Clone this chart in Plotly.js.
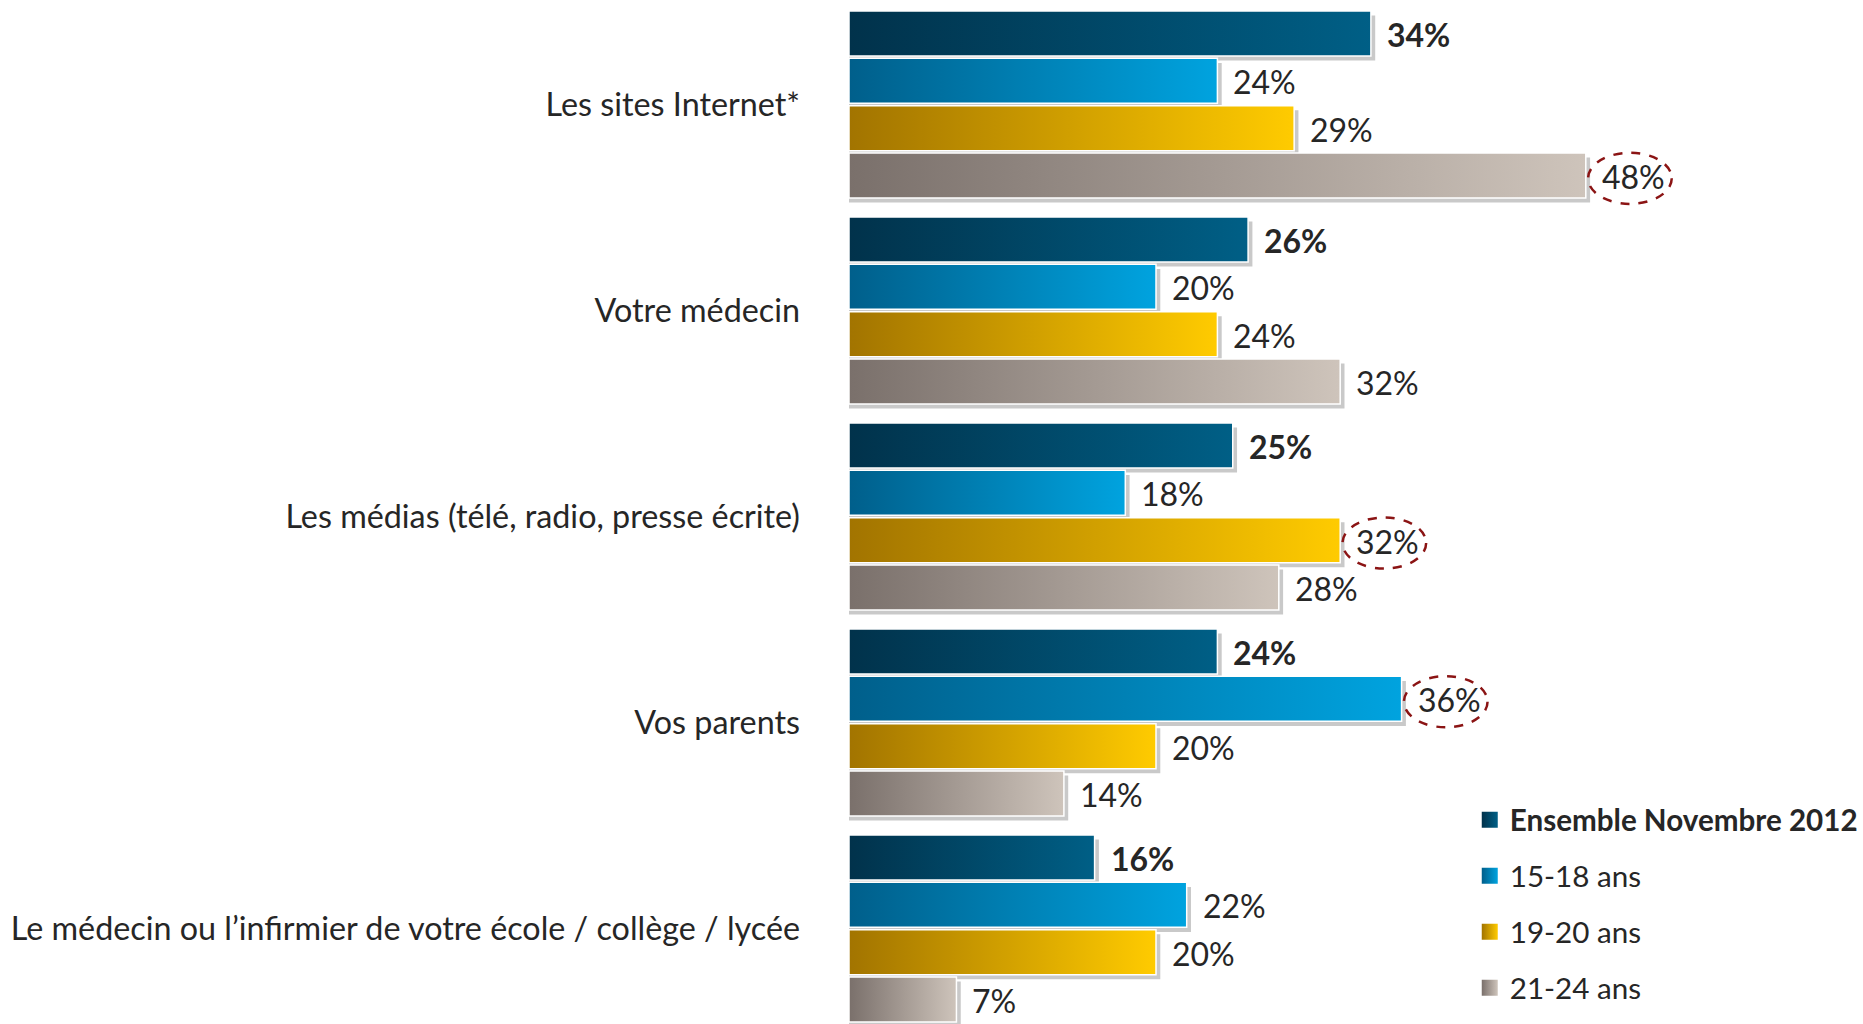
<!DOCTYPE html>
<html>
<head>
<meta charset="utf-8">
<script src="https://cdn.plot.ly/plotly-3.0.1.min.js"></script>
<style>html,body{margin:0;padding:0;background:#fff;}#chart{width:1863px;height:1024px;}</style>
</head>
<body>
<div id="chart"></div>
<script>
// ---- data ----
const categories = [
  "Les sites Internet*",
  "Votre médecin",
  "Les médias (télé, radio, presse écrite)",
  "Vos parents",
  "Le médecin ou l’infirmier de votre école / collège / lycée"
];
const seriesNames = ["Ensemble Novembre 2012", "15-18 ans", "19-20 ans", "21-24 ans"];
const ensemble = [34, 26, 25, 24, 16];
const age15_18 = [24, 20, 18, 36, 22];
const age19_20 = [29, 24, 32, 20, 20];
const age21_24 = [48, 32, 28, 14, 7];
const highlighted = [
  ["21-24 ans", "Les sites Internet*"],
  ["19-20 ans", "Les médias (télé, radio, presse écrite)"],
  ["15-18 ans", "Vos parents"]
];

// ---- styles ----
const seriesValues = [ensemble, age15_18, age19_20, age21_24];
const leftColors  = ["#01324b", "#005f8b", "#a27400", "#7a706b"];
const rightColors = ["#005f86", "#00a3df", "#ffcb00", "#cec4bb"];
const FONT = "Lato, 'Open Sans', sans-serif";
const TXT = "#262626";
const pitch = 0.2296;   // distance between bar centres inside a group (group units)
const barH = 0.2184;    // bar thickness (group units)
const shX = 0.28, shY = 0.022; // shadow offset

const traces = [];
const annotations = [];
const shapes = [];

function barCenter(ci, si) { return ci + (si - 1.5) * pitch; }

// shadows first
seriesValues.forEach((vals, si) => {
  vals.forEach((v, ci) => {
    const c = barCenter(ci, si);
    traces.push({
      type: "scatter", mode: "lines", fill: "toself",
      x: [0, v + shX, v + shX, 0, 0],
      y: [c - barH/2 + shY, c - barH/2 + shY, c + barH/2 + shY, c + barH/2 + shY, c - barH/2 + shY],
      line: {width: 0, color: "rgba(0,0,0,0)"},
      fillcolor: "#c9c9c9",
      hoverinfo: "skip", showlegend: false
    });
  });
});

// bars with horizontal gradients
seriesValues.forEach((vals, si) => {
  vals.forEach((v, ci) => {
    const c = barCenter(ci, si);
    traces.push({
      type: "scatter", mode: "lines", fill: "toself",
      x: [0, v, v, 0, 0],
      y: [c - barH/2, c - barH/2, c + barH/2, c + barH/2, c - barH/2],
      line: {width: 1.5, color: "#ffffff"},
      fillcolor: rightColors[si],
      fillgradient: {type: "horizontal", colorscale: [[0, leftColors[si]], [1, rightColors[si]]]},
      name: seriesNames[si], legendgroup: seriesNames[si],
      hovertemplate: seriesNames[si] + " – " + categories[ci] + ": %{text}<extra></extra>",
      text: Array(5).fill(v + "%"),
      showlegend: false
    });
    annotations.push({
      x: v, y: c, xref: "x", yref: "y",
      text: si === 0 ? "<b>" + v + "%</b>" : v + "%",
      showarrow: false, xanchor: "left", yanchor: "middle", xshift: 14, yshift: -1,
      font: {family: FONT, size: 32, color: TXT}
    });
  });
});

// legend entries
seriesNames.forEach((n, si) => {
  traces.push({
    type: "scatter", mode: "markers", x: [null], y: [null],
    name: si === 0 ? "<b>" + n + "</b>" : n, legendgroup: n,
    marker: {symbol: "square", size: 16, color: leftColors[si],
             gradient: {type: "horizontal", color: rightColors[si]}},
    showlegend: true, hoverinfo: "skip"
  });
});

// dashed ellipses around highlighted values
highlighted.forEach(([s, cat]) => {
  const si = seriesNames.indexOf(s), ci = categories.indexOf(cat);
  const v = seriesValues[si][ci], c = barCenter(ci, si);
  shapes.push({
    type: "circle", xref: "x", yref: "y",
    x0: v + 0.15, x1: v + 5.6, y0: c - 0.11, y1: c + 0.138,
    line: {color: "#8b1414", width: 2.5, dash: "dash"}
  });
});

const layout = {
  width: 1863, height: 1024,
  margin: {l: 849, r: 91, t: 0, b: 0},
  paper_bgcolor: "#ffffff", plot_bgcolor: "#ffffff",
  font: {family: FONT, color: TXT},
  showlegend: true,
  legend: {
    x: 0.674, y: 0.2245, xanchor: "left", yanchor: "top",
    font: {family: FONT, size: 29.6, color: TXT},
    tracegroupgap: 14.5, itemsizing: "trace", bgcolor: "rgba(0,0,0,0)"
  },
  xaxis: {range: [0, 60], visible: false, fixedrange: true},
  yaxis: {
    range: [4.4636, -0.5073], tickmode: "array",
    tickvals: categories.map((_, i) => i), ticktext: categories,
    showgrid: false, zeroline: false, showline: false, ticks: "",
    ticklabelstandoff: 48,
    tickfont: {family: FONT, size: 32.3, color: TXT}, fixedrange: true
  },
  annotations: annotations,
  shapes: shapes
};

Plotly.newPlot("chart", traces, layout, {displayModeBar: false, staticPlot: true});
</script>
</body>
</html>
